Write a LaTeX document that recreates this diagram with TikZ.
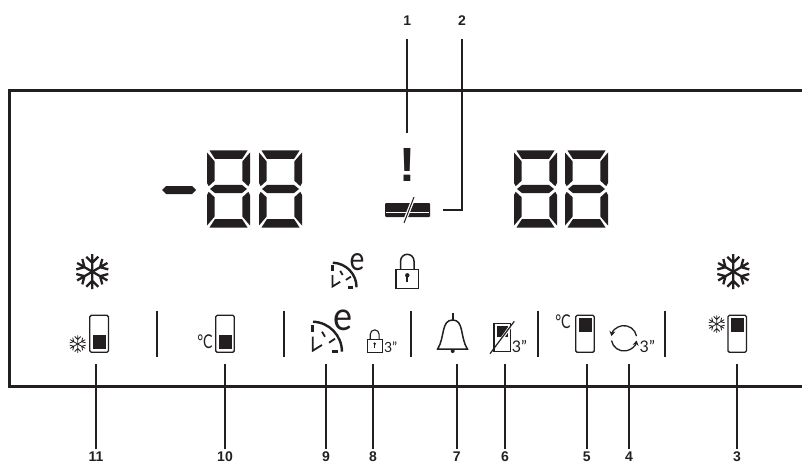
\documentclass[tikz,border=0pt]{standalone}
\usepackage{fontspec}
\setmainfont{Lato}
\newfontfamily\labelfont{Liberation Sans}
\usetikzlibrary{arrows.meta}
\definecolor{ink}{HTML}{231F20}

\tikzset{
pics/segdigit/.style={code={
\fill (2.5,.5) -- (40.5,.5) -- (35,9) -- (8,9) -- cycle;
\fill (0,2.5) -- (7.7,11.5) -- (7.7,30.7) -- (1.7,36.2) -- (0,33) -- cycle;
\fill (43,2.5) -- (35.3,11.5) -- (35.3,30.7) -- (41.3,36.2) -- (43,33) -- cycle;
\fill (3,39) -- (8,34.9) -- (35,34.9) -- (40,39) -- (35,43.1) -- (8,43.1) -- cycle;
\fill (0,45) -- (1.7,41.8) -- (7.7,47.3) -- (7.7,66.5) -- (0,75.5) -- cycle;
\fill (43,45) -- (41.3,41.8) -- (35.3,47.3) -- (35.3,66.5) -- (43,75.5) -- cycle;
\fill (2.5,77.5) -- (8,69) -- (35,69) -- (40.5,77.5) -- cycle;
}},
pics/flake/.style={code={
\foreach \ang in {30,90,150,210,270,330}
\draw[rotate=\ang] (0,0) -- (17.5,0) (15,6) -- (9,0) -- (15,-6);
}},
pics/barbox/.style={code={
\draw[line width=1.3pt,rounded corners=1.5pt] (0,0) rectangle (18.6,37);
\fill (3,#1) rectangle (15.8,#1+14.3);
}},
pics/clockface/.style={code={
\draw[line width=2.4pt] (1,-30) arc[start angle=-88,end angle=0,radius=30];
\draw[line width=3pt] (.7,-27) -- (.7,-19.5);
\draw[line width=3pt] (19.5,0) -- (26,0);
\draw[line width=1.8pt] (.7,-15) -- (.7,-1) -- (10,-6.7);
\draw[line width=1.8pt] (10,-20) -- (13,-15);
\draw[line width=1.8pt] (17,-9) -- (23,-13);
}},
pics/padlock/.style={code={
\draw (-11.3,-19) rectangle (11.3,0);
\draw (-6.7,-19) -- (-6.7,-27.3) arc[start angle=180,end angle=360,radius=6.7] -- (6.7,-19);
\fill (0,-13) circle (2.2);
\fill (-1,-13) rectangle (1,-6);
}}
}

\begin{document}
\begin{tikzpicture}[
x=1pt,
y=-1pt,
color=ink,
frameline/.style={line width=3.2pt},
leader/.style={line width=1.9pt},
divider/.style={line width=1.9pt},
numlabel/.style={inner sep=0pt,font=\fontsize{14}{14}\selectfont\labelfont\bfseries},
icontext/.style={inner sep=0pt,font=\fontsize{19}{19}\selectfont},
shorttext/.style={inner sep=0pt,font=\fontsize{16}{16}\selectfont},
thinflake/.style={line width=.8pt,scale=.5}
]

\useasboundingbox (0,0) rectangle (802,465);

\draw[frameline] (802,90.3) -- (9.3,90.3) -- (9.3,386.7) -- (802,386.7);

\pic at (207,150) {segdigit};
\pic at (259,150) {segdigit};
\pic at (514,150) {segdigit};
\pic at (565,150) {segdigit};
\fill (162,190) -- (166,186) -- (192,186) -- (196,190) -- (192,194) -- (166,194) -- cycle;

\node (alert) [inner sep=0pt,font=\fontsize{48}{48}\selectfont\labelfont\bfseries] at (407.3,164.5) {!};

\fill[rounded corners=1pt] (385,203) rectangle (430,217);
\draw[white,line width=1pt] (386,212.5) -- (429,212.5);
\draw[white,line width=3.5pt] (405,220) -- (413,200);
\draw[line width=1pt] (404,223) -- (414,197);

\foreach \xpos in {157,284,411,538,665}
\draw[divider] (\xpos,310.7) -- (\xpos,356.7);

\pic[line width=2.3pt] at (92.3,271.7) {flake};
\pic[line width=2.3pt] at (733.3,271.7) {flake};
\pic[thinflake] at (77.7,344) {flake};
\pic[thinflake] at (716.7,324) {flake};

\pic at (89.8,315.3) {barbox=19.7};
\pic at (215.7,315.3) {barbox=19.7};
\pic at (575.7,315.3) {barbox=2.7};
\pic at (727.9,315.3) {barbox=2.7};

\node (cellowone) [icontext] at (205,342) {\scalebox{.75}[1]{°C}};
\node (celhigh) [icontext] at (563,322) {\scalebox{.75}[1]{°C}};

\pic at (332,287.3) [scale=.82] {clockface};
\pic at (312,351.7) {clockface};
\node (ecosmall) [inner sep=0pt,font=\fontsize{33}{33}\selectfont] at (357,262.3) {\scalebox{.85}[1]{e}};
\node (ecobig) [inner sep=0pt,font=\fontsize{40}{40}\selectfont] at (342.7,320) {\scalebox{.9}[1]{e}};

\pic[line width=1.5pt] at (407.3,288.3) {padlock};
\pic[line width=1.1pt,scale=.66] at (374.7,352.3) {padlock};
\node (lockthree) [shorttext,font=\fontsize{14}{14}\selectfont] at (390.7,347) {3"};

\draw[line width=1.5pt] (437.7,349) .. controls (445,337) and (441,320) .. (452.7,320) .. controls (464,320) and (460,337) .. (467.3,349) -- cycle;
\draw[line width=2.4pt] (452.7,320) -- (452.7,313);
\fill (452.7,351) circle (2);

\draw[line width=1.2pt] (494,323.3) rectangle (510.7,351.7);
\fill (496.7,326) rectangle (508.3,337);
\draw[white,line width=3pt] (496,347) -- (510,327);
\draw[line width=1.2pt] (490,353.7) -- (514.3,321.3);
\node (slashthree) [shorttext] at (519.5,346.5) {3"};

\draw[line width=1.3pt,-{Stealth[length=5pt,width=6pt]}] (636.5,336.1) arc[start angle=-10,end angle=-170,radius=12.7];
\draw[line width=1.3pt,-{Stealth[length=5pt,width=6pt]}] (611.5,340.5) arc[start angle=170,end angle=10,radius=12.7];
\node (loopthree) [shorttext] at (647.3,346) {3"};

\foreach \num/\xpos in {11/96,10/225,9/326,8/373,7/456.7,6/505,5/586.7,4/629,3/737}{
\node (lab\num) [numlabel,outer sep=3pt] at (\xpos,457) {\num};
\coordinate (tip\num) at (\xpos,364);
\draw[leader] (lab\num) -- (tip\num);
}

\node (lab1) [numlabel,outer sep=14pt] at (407.3,20.5) {1};
\coordinate (tip1) at (407.3,133);
\draw[leader] (lab1) -- (tip1);

\node (lab2) [numlabel,outer sep=14pt] at (462,20.5) {2};
\coordinate (tip2) at (443,210);
\draw[leader] (lab2) |- (tip2);

\end{tikzpicture}
\end{document}
